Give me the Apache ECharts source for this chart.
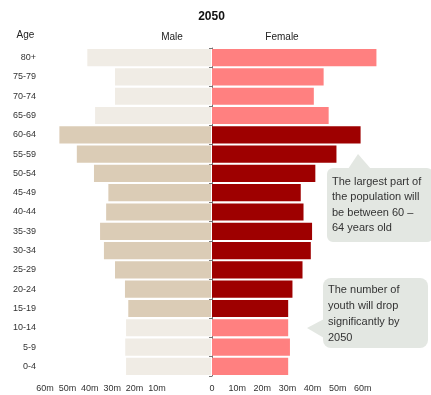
<!DOCTYPE html>
<html><head><meta charset="utf-8">
<script src="https://cdn.jsdelivr.net/npm/echarts@6/dist/echarts.min.js"></script>
<style>html,body{margin:0;padding:0;background:#fff}#c{width:431px;height:395px}</style>
</head><body><div id="c"></div>
<script>
// Data (millions), top row to bottom row
const ages = ['80+','75-79','70-74','65-69','60-64','55-59','50-54','45-49','40-44','35-39','30-34','25-29','20-24','15-19','10-14','5-9','0-4'];
const male = [44.7,34.7,34.7,41.9,54.8,48.5,42.3,37.1,37.9,40.1,38.7,34.7,31.1,29.9,30.7,31.0,30.7];
const female = [65.4,44.4,40.5,46.4,59.1,49.5,41.1,35.3,36.4,39.8,39.3,36.0,32.0,30.3,30.3,31.0,30.3];
const band = ['old','old','old','old','work','work','work','work','work','work','work','work','work','work','young','young','young'];
const tickValues = [0,10,20,30,40,50,60];
const tickLabels = ['0','10m','20m','30m','40m','50m','60m'];
const title = '2050';
const note1 = ['The largest part of','the population will','be between 60 \u2013','64 years old'];
const note2 = ['The number of','youth will drop','significantly by','2050'];

const maleColor = {old:'#F0ECE5', work:'#DBCCB6', young:'#F0ECE5'};
const femaleColor = {old:'#FF8080', work:'#9E0000', young:'#FF8080'};
const FONT = '"Liberation Sans Narrow","Liberation Sans",Arial,sans-serif';

function tickFmt(hideZero){
  return function(v){
    const i = tickValues.indexOf(v);
    if (i < 0) return '';
    if (hideZero && v === 0) return '';
    return tickLabels[i];
  };
}
const lbl = {fontSize:9, color:'#333', margin:8, fontFamily:FONT};

const chart = echarts.init(document.getElementById('c'));
chart.setOption({
  animation:false,
  backgroundColor:'#fff',
  textStyle:{fontFamily:FONT},
  grid:[
    {left:45, right:220, top:48, bottom:19},
    {left:212, right:43, top:48, bottom:19},
    {left:45, right:251.6, top:48, bottom:19}
  ],
  xAxis:[
    {gridIndex:0, type:'value', inverse:true, min:0, max:60, interval:10,
     axisLine:{show:false}, axisTick:{show:false}, splitLine:{show:false},
     axisLabel:{show:false}},
    {gridIndex:1, type:'value', min:0, max:70, interval:10,
     axisLine:{show:false}, axisTick:{show:false}, splitLine:{show:false},
     axisLabel:Object.assign({formatter:tickFmt(false)}, lbl)},
    {gridIndex:2, type:'value', inverse:true, min:0, max:60, interval:10,
     axisLine:{show:false}, axisTick:{show:false}, splitLine:{show:false},
     axisLabel:Object.assign({formatter:tickFmt(true)}, lbl)}
  ],
  yAxis:[
    {gridIndex:0, type:'category', data:ages, inverse:true, position:'left',
     axisLine:{show:false}, axisTick:{show:false},
     axisLabel:{fontSize:9, color:'#333', margin:9, fontFamily:FONT}},
    {gridIndex:1, type:'category', data:ages, inverse:true, position:'left',
     axisLine:{show:true, lineStyle:{color:'#777', width:1}},
     axisTick:{show:true, length:3, lineStyle:{color:'#777'}},
     axisLabel:{show:false}},
    {gridIndex:2, type:'category', data:ages, inverse:true, show:false}
  ],
  series:[
    {type:'bar', xAxisIndex:0, yAxisIndex:0, data:male, barCategoryGap:'11%',
     itemStyle:{color:p=>maleColor[band[p.dataIndex]]}},
    {type:'bar', xAxisIndex:1, yAxisIndex:1, data:female, barCategoryGap:'11%',
     itemStyle:{color:p=>femaleColor[band[p.dataIndex]]}}
  ],
  graphic:[
    {type:'text', x:211.5, y:17, style:{text:title, font:'bold 12px '+FONT, fill:'#111', align:'center', verticalAlign:'middle'}},
    {type:'text', x:25.5, y:35, style:{text:'Age', font:'10px '+FONT, fill:'#222', align:'center', verticalAlign:'middle'}},
    {type:'text', x:172, y:37, style:{text:'Male', font:'10px '+FONT, fill:'#222', align:'center', verticalAlign:'middle'}},
    {type:'text', x:282, y:37, style:{text:'Female', font:'10px '+FONT, fill:'#222', align:'center', verticalAlign:'middle'}},
    {type:'polygon', shape:{points:[[348,169],[358,154],[371,169]]}, style:{fill:'#E3E7E2'}, z:10},
    {type:'rect', shape:{x:327, y:168, width:106, height:74, r:6}, style:{fill:'#E3E7E2'}, z:10},
    {type:'text', x:332, y:174, z:11, style:{text:note1.join('\n'), font:'11px '+FONT, lineHeight:15.5, fill:'#333'}},
    {type:'polygon', shape:{points:[[324,319],[307,328],[324,338]]}, style:{fill:'#E3E7E2'}, z:10},
    {type:'rect', shape:{x:323, y:278, width:105, height:70, r:8}, style:{fill:'#E3E7E2'}, z:10},
    {type:'text', x:328, y:282, z:11, style:{text:note2.join('\n'), font:'11px '+FONT, lineHeight:16, fill:'#333'}}
  ]
});
</script></body></html>
